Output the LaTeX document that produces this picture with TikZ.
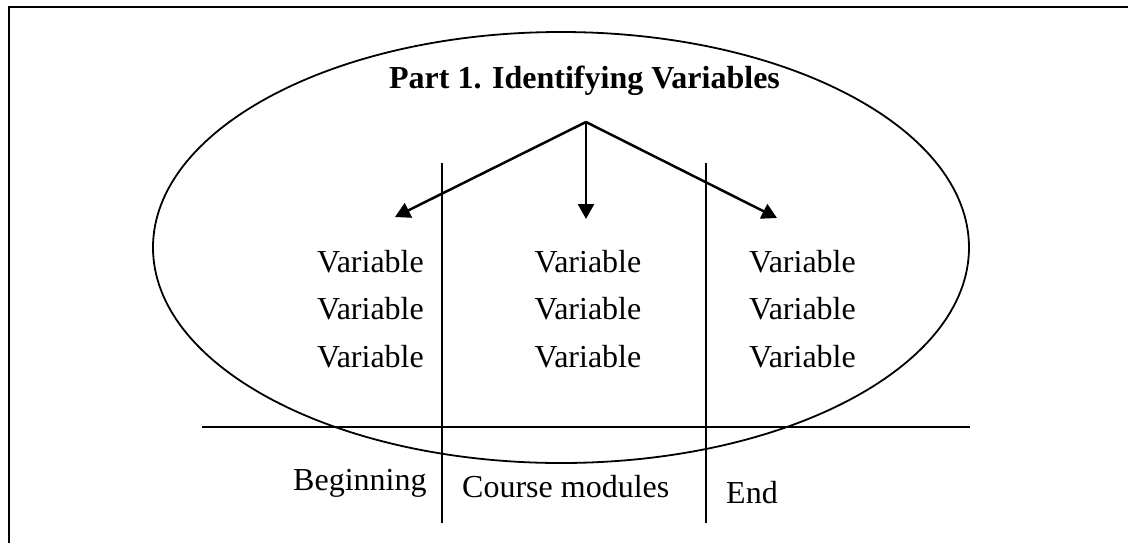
\documentclass[tikz,border=0pt]{standalone}
\usepackage{fontspec}
\setmainfont{Liberation Serif}
\usetikzlibrary{arrows.meta}
\begin{document}
\begin{tikzpicture}[x=1pt,y=-1pt,
  thinline/.style={line width=1.8pt},
  arrowline/.style={line width=2.5pt,-{Triangle[length=15pt,width=16pt]}},
  vartext/.style={anchor=base east,inner sep=0pt,font=\fontsize{32}{35}\selectfont},
  labtext/.style={anchor=base west,inner sep=0pt,font=\fontsize{32}{35}\selectfont},
  titletext/.style={anchor=base,inner sep=0pt,font=\bfseries\fontsize{32}{35}\selectfont}]
\useasboundingbox (0,0) rectangle (1128,542);
% outer frame (right and bottom edges fall outside the page)
\draw[line width=2pt] (9,7) rectangle (1134,548);
% ellipse
\draw[thinline] (561,247.5) ellipse [x radius=408, y radius=215.5];
% title
\node[titletext] (title) at (584.5,88) {Part 1. Identifying Variables};
% arrows
\coordinate (apex) at (586,122);
\coordinate (tipL) at (395,217);
\coordinate (tipM) at (586,219);
\coordinate (tipR) at (777,218);
\draw[arrowline] (apex) -- (tipL);
\draw[arrowline] (apex) -- (tipM);
\draw[arrowline] (apex) -- (tipR);
% dividers
\coordinate (h1) at (202,427);
\coordinate (h2) at (970,427);
\draw[thinline] (h1) -- (h2);
\coordinate (v1t) at (442,163);
\coordinate (v1b) at (442,523);
\coordinate (v2t) at (706,163);
\coordinate (v2b) at (706,523);
\draw[thinline] (v1t) -- (v1b);
\draw[thinline] (v2t) -- (v2b);
% variables
\node[vartext] (a1) at (424,272) {Variable};
\node[vartext] (a2) at (424,319.5) {Variable};
\node[vartext] (a3) at (424,367) {Variable};
\node[vartext] (b1) at (641.5,272) {Variable};
\node[vartext] (b2) at (641.5,319.5) {Variable};
\node[vartext] (b3) at (641.5,367) {Variable};
\node[vartext] (c1) at (856,272) {Variable};
\node[vartext] (c2) at (856,319.5) {Variable};
\node[vartext] (c3) at (856,367) {Variable};
% bottom labels
\node[labtext] (beg) at (293,490) {Beginning};
\node[labtext] (mod) at (462,497) {Course modules};
\node[labtext] (end) at (726,503) {End};
\end{tikzpicture}
\end{document}
